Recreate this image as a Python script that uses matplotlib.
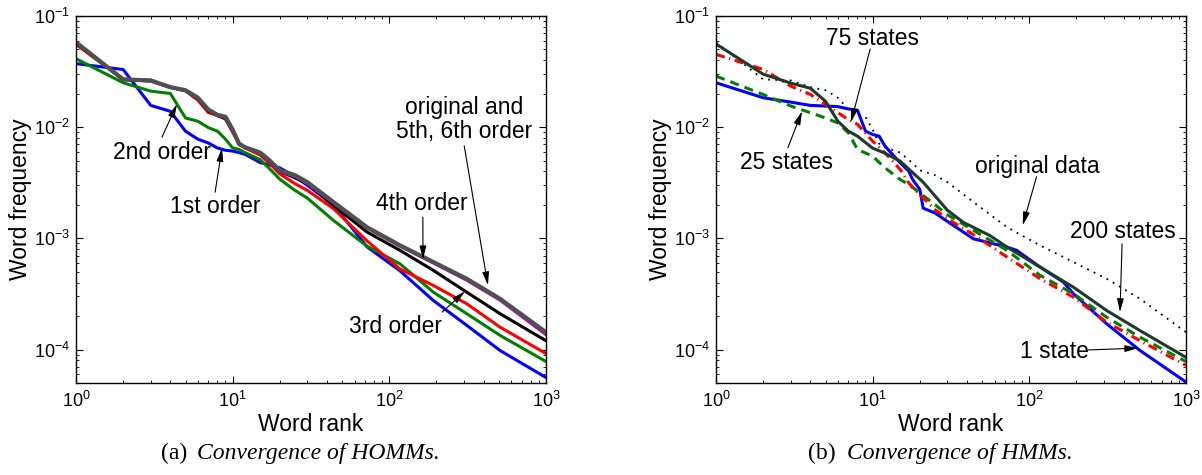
import numpy as np
import matplotlib
matplotlib.use('Agg')
import matplotlib.pyplot as plt

plt.rcParams['font.family'] = ['Liberation Sans', 'DejaVu Sans']
plt.rcParams['mathtext.fontset'] = 'custom'
plt.rcParams['mathtext.rm'] = 'Liberation Sans'
plt.rcParams['mathtext.it'] = 'Liberation Sans:italic'
plt.rcParams['mathtext.bf'] = 'Liberation Sans:bold'

# ---- (a) HOMMs ----
rank_a = [1, 2, 3, 4, 5, 6, 7, 8, 9, 10, 11, 12, 15, 17, 20, 25, 30,
          44, 72, 117, 191, 312, 509, 1000]
orig = [0.058, 0.0269, 0.0263, 0.0229, 0.0215, 0.0184, 0.0144, 0.0129, 0.0124,
        0.0095, 0.0071, 0.0066, 0.0059, 0.0051, 0.0041, 0.0037, 0.0032,
        0.00212, 0.00126, 0.000865, 0.000612, 0.000433, 0.000286, 0.000143]
order56 = [0.0575, 0.0268, 0.0262, 0.0228, 0.0214, 0.0183, 0.0143, 0.0128, 0.0123,
           0.0094, 0.0070, 0.0065, 0.0058, 0.0050, 0.0040, 0.0036, 0.0031,
           0.00208, 0.00124, 0.00085, 0.0006, 0.00042, 0.000278, 0.000136]
order4 = [0.057, 0.0268, 0.026, 0.0228, 0.0213, 0.018, 0.014, 0.0127, 0.012,
          0.0093, 0.0070, 0.0066, 0.0058, 0.0050, 0.0040, 0.0035, 0.0031,
          0.00198, 0.00114, 0.00078, 0.000515, 0.000328, 0.00021, 0.00012]
order3 = [0.0555, 0.027, 0.0265, 0.023, 0.0212, 0.0175, 0.0135, 0.0128, 0.0118,
          0.0090, 0.0070, 0.0065, 0.0056, 0.0048, 0.0038, 0.0031, 0.0027,
          0.00185, 0.00095, 0.00053, 0.000377, 0.000258, 0.000159, 9.2e-5]
order2 = [0.0413, 0.0251, 0.0211, 0.0201, 0.0121, 0.0113, 0.0099, 0.0092, 0.0078,
          0.0065, 0.0063, 0.0059, 0.0051, 0.0043, 0.0034, 0.0027, 0.0023,
          0.00145, 0.00085, 0.00059, 0.000328, 0.00021, 0.000134, 7.8e-5]
order1 = [0.0373, 0.033, 0.0157, 0.0139, 0.0092, 0.0078, 0.0072, 0.0065, 0.0062,
          0.0061, 0.0059, 0.0057, 0.0048, 0.0046, 0.0043, 0.0036, 0.0030,
          0.0020, 0.00084, 0.00051, 0.000276, 0.000165, 9.8e-5, 5.6e-5]

# ---- (b) HMMs ----
rank_200 = [1, 2, 3, 4, 5, 6, 7, 8, 10, 12, 15, 21, 30, 38, 56, 72, 117, 191, 312, 509, 1000]
states200 = [0.056, 0.030, 0.0249, 0.0224, 0.0171, 0.0113, 0.0092, 0.0083, 0.00647,
             0.00583, 0.00494, 0.0032, 0.00179, 0.00139, 0.00106, 0.000835,
             0.000552, 0.000364, 0.000224, 0.000148, 8.5e-5]
rank_hmm = [1, 2, 3, 4, 5, 6, 7, 8, 10, 12, 15, 17, 20, 25, 30, 44, 72, 117, 191, 312, 509, 1000]
states75 = [0.0452, 0.0331, 0.0234, 0.0197, 0.016, 0.0135, 0.0117, 0.0106, 0.00748,
            0.00587, 0.00416, 0.00315, 0.00247, 0.00181, 0.0015, 0.00108, 0.00068,
            0.000434, 0.000296, 0.000176, 0.00012, 7.2e-5]
states25 = [0.0288, 0.0197, 0.0155, 0.0135, 0.0121, 0.0109, 0.0089, 0.0063, 0.00548,
            0.0043, 0.00338, 0.00305, 0.00256, 0.00201, 0.00163, 0.00118, 0.00078,
            0.000465, 0.000318, 0.000195, 0.000129, 7.8e-5]
rank_1 = [1, 2, 3, 4, 5, 6, 7, 8, 9, 10, 11, 12, 14, 15, 17, 18, 20, 21, 25, 30,
          44, 72, 83, 117, 165, 191, 312, 509, 1000]
states1 = [0.0251, 0.0184, 0.0168, 0.0157, 0.0155, 0.0153, 0.0146, 0.0142, 0.0092,
           0.0086, 0.0083, 0.00674, 0.0053, 0.00477, 0.00402, 0.00338, 0.00275,
           0.00187, 0.00169, 0.00142, 0.00099, 0.000835, 0.00078, 0.000552,
           0.000404, 0.000318, 0.00017, 9.8e-5, 5.1e-5]

fig = plt.figure(figsize=(12.02, 4.75), dpi=100)
axA = fig.add_axes([76/1202, 92/475, 470/1202, 367/475])
axB = fig.add_axes([716/1202, 92/475, 470/1202, 367/475])

lw = 2.2
axA.loglog(rank_a, order1, color='#0000ff', lw=lw)
axA.loglog(rank_a, order2, color='#008000', lw=lw)
axA.loglog(rank_a, order3, color='#ff0000', lw=lw)
axA.loglog(rank_a, order4, color='k', lw=lw)
axA.loglog(rank_a, order56, color='#bf00bf', lw=lw)
axA.loglog(rank_a, orig, color='#505050', lw=3.0)

axB.loglog(rank_a, orig, color='k', lw=1.3, linestyle=(0, (1, 3)))
axB.loglog(rank_1, states1, color='#0000ff', lw=lw)
axB.loglog(rank_hmm, states25, color='#008000', lw=lw, linestyle=(0, (3, 2)))
axB.loglog(rank_hmm, states75, color='#ff0000', lw=lw, linestyle=(0, (3, 1.5, 0.4, 1.5)))
axB.loglog(rank_200, states200, color='#1e3b2a', lw=lw)

for ax in (axA, axB):
    ax.set_xlim(1, 1000)
    ax.set_ylim(5e-5, 1e-1)
    ax.tick_params(which='both', direction='in', top=True, right=True, labelsize=13)
    ax.tick_params(which='major', length=5, width=0.8)
    ax.tick_params(which='minor', length=2.5, width=0.6)
    ax.tick_params(axis='x', pad=6)
    ax.tick_params(axis='y', pad=4)
    for s in ax.spines.values():
        s.set_linewidth(1.0)
    ax.set_xlabel('Word rank', fontsize=16.5)
    ax.set_ylabel('Word frequency', fontsize=16.5)
    ax.xaxis.set_label_coords(0.5, -0.083)
    ax.yaxis.set_label_coords(-0.119, 0.5)
    ax.yaxis.label.set_va('center')

arrow = dict(arrowstyle='-|>,head_length=0.8,head_width=0.2', color='k', lw=0.8,
             shrinkA=0, shrinkB=0)
fs = 16.5


def label(ax, txt, tpos, tail, head):
    ax.text(tpos[0], tpos[1], txt, transform=ax.transAxes, ha='center', va='center',
            fontsize=fs, linespacing=1.05)
    ax.annotate('', xy=head, xycoords='data', xytext=tail, textcoords='axes fraction',
                arrowprops=arrow)


label(axA, '2nd order', (0.183, 0.629), (0.183, 0.670), (4.41, 0.0161))
label(axA, '1st order', (0.296, 0.480), (0.296, 0.520), (8.55, 0.0065))
label(axA, 'original and\n5th, 6th order', (0.826, 0.717), (0.826, 0.646), (426, 0.000378))
label(axA, '4th order', (0.736, 0.488), (0.738, 0.452), (164, 0.000647))
label(axA, '3rd order', (0.679, 0.153), (0.779, 0.193), (304, 0.000334))

label(axB, '75 states', (0.332, 0.940), (0.328, 0.910), (7.27, 0.0111))
label(axB, '25 states', (0.151, 0.602), (0.153, 0.641), (3.54, 0.0139))
label(axB, 'original data', (0.683, 0.591), (0.682, 0.562), (90.7, 0.00131))
label(axB, '200 states', (0.865, 0.412), (0.864, 0.379), (379, 0.000217))
label(axB, '1 state', (0.721, 0.085), (0.792, 0.090), (496, 0.000103))

cap = dict(fontsize=17, family='Liberation Serif', va='baseline')
fig.text(161/1202, 16/475, '(a)', ha='left', **cap)
fig.text(197/1202, 16/475, 'Convergence of HOMMs.', ha='left', style='italic', **cap)
fig.text(808/1202, 16/475, '(b)', ha='left', **cap)
fig.text(847/1202, 16/475, 'Convergence of HMMs.', ha='left', style='italic', **cap)

fig.savefig('out.png', dpi=100)
